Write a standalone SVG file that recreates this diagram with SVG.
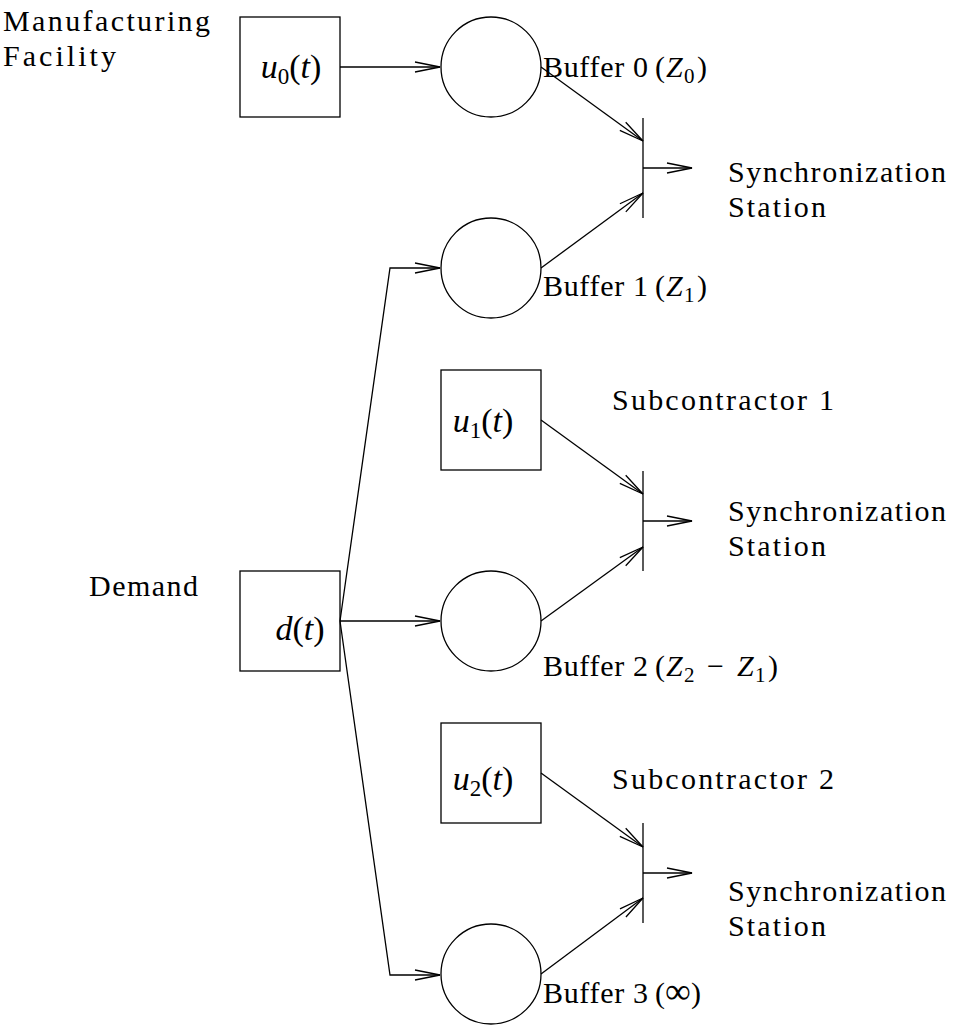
<svg xmlns="http://www.w3.org/2000/svg" width="957" height="1028" viewBox="0 0 957 1028">
<style>
  .shape { fill: none; stroke: #000; stroke-width: 1.3; }
  .conn { fill: none; stroke: #000; stroke-width: 1.3; marker-end: url(#arr); }
  text { font-family: "Liberation Serif", "DejaVu Serif", "Times New Roman", serif; font-size: 30px; fill: #000; }
  .it { font-style: italic; }
  .sub { font-size: 21px; }
  .math { font-size: 34px; }
  .math .sub { font-size: 23px; }
</style>
<defs>
  <marker id="arr" viewBox="-27 -7 29 14" markerWidth="29" markerHeight="14" refX="0" refY="0" orient="auto" markerUnits="userSpaceOnUse">
    <path d="M-25,-5 L0,0 L-25,5" fill="none" stroke="#000" stroke-width="1.3"/>
  </marker>
</defs>
<rect width="957" height="1028" fill="#fff"/>

<g id="label-manufacturing">
  <text x="3" y="31" textLength="207" lengthAdjust="spacing">Manufacturing</text>
  <text x="3" y="66" textLength="113" lengthAdjust="spacing">Facility</text>
</g>
<g id="u0">
  <rect class="shape" x="240" y="17" width="100" height="100"/>
  <text class="math" x="291" y="78" text-anchor="middle"><tspan class="it">u</tspan><tspan class="sub" dy="6">0</tspan><tspan dy="-6">(</tspan><tspan class="it">t</tspan>)</text>
</g>
<g id="buffer0">
  <circle class="shape" cx="491" cy="67" r="50"/>
  <text x="543" y="77"><tspan textLength="105" lengthAdjust="spacing">Buffer 0</tspan><tspan x="655">(</tspan><tspan class="it" x="666">Z</tspan><tspan class="sub" x="684" dy="6">0</tspan><tspan x="697" dy="-6">)</tspan></text>
</g>
<g id="sync1">
  <line class="shape" x1="643" y1="118" x2="643" y2="218"/>
  <text x="728" y="182" textLength="218" lengthAdjust="spacing">Synchronization</text>
  <text x="728" y="217" textLength="98" lengthAdjust="spacing">Station</text>
</g>
<g id="buffer1">
  <circle class="shape" cx="491" cy="268" r="50"/>
  <text x="543" y="296"><tspan textLength="105" lengthAdjust="spacing">Buffer 1</tspan><tspan x="655">(</tspan><tspan class="it" x="666">Z</tspan><tspan class="sub" x="684" dy="6">1</tspan><tspan x="697" dy="-6">)</tspan></text>
</g>
<g id="u1">
  <rect class="shape" x="441" y="370" width="100" height="100"/>
  <text class="math" x="483" y="432" text-anchor="middle"><tspan class="it">u</tspan><tspan class="sub" dy="6">1</tspan><tspan dy="-6">(</tspan><tspan class="it">t</tspan>)</text>
  <text x="612" y="410" textLength="222" lengthAdjust="spacing">Subcontractor 1</text>
</g>
<g id="sync2">
  <line class="shape" x1="643" y1="471" x2="643" y2="571"/>
  <text x="728" y="521" textLength="218" lengthAdjust="spacing">Synchronization</text>
  <text x="728" y="556" textLength="98" lengthAdjust="spacing">Station</text>
</g>
<g id="demand">
  <rect class="shape" x="240" y="571" width="100" height="100"/>
  <text class="math" x="300" y="640" text-anchor="middle"><tspan class="it">d</tspan>(<tspan class="it">t</tspan>)</text>
  <text x="89" y="596" textLength="109" lengthAdjust="spacing">Demand</text>
</g>
<g id="buffer2">
  <circle class="shape" cx="491" cy="621" r="50"/>
  <text x="543" y="676"><tspan textLength="105" lengthAdjust="spacing">Buffer 2</tspan><tspan x="655">(</tspan><tspan class="it" x="666">Z</tspan><tspan class="sub" x="684" dy="6">2</tspan><tspan x="707" dy="-6">−</tspan><tspan class="it" x="737">Z</tspan><tspan class="sub" x="755" dy="6">1</tspan><tspan x="768" dy="-6">)</tspan></text>
</g>
<g id="u2">
  <rect class="shape" x="441" y="723" width="100" height="100"/>
  <text class="math" x="483" y="790" text-anchor="middle"><tspan class="it">u</tspan><tspan class="sub" dy="6">2</tspan><tspan dy="-6">(</tspan><tspan class="it">t</tspan>)</text>
  <text x="612" y="789" textLength="222" lengthAdjust="spacing">Subcontractor 2</text>
</g>
<g id="sync3">
  <line class="shape" x1="643" y1="823" x2="643" y2="923"/>
  <text x="728" y="901" textLength="218" lengthAdjust="spacing">Synchronization</text>
  <text x="728" y="936" textLength="98" lengthAdjust="spacing">Station</text>
</g>
<g id="buffer3">
  <circle class="shape" cx="491" cy="974" r="50"/>
  <text x="543" y="1003"><tspan textLength="105" lengthAdjust="spacing">Buffer 3</tspan><tspan x="655">(</tspan><tspan x="665" font-size="36">∞</tspan><tspan x="691">)</tspan></text>
</g>

<g id="connectors">
  <line class="conn" x1="340" y1="67" x2="440" y2="67"/>
  <line class="conn" x1="541" y1="67" x2="643" y2="141"/>
  <line class="conn" x1="541" y1="268" x2="643" y2="193"/>
  <line class="conn" x1="643" y1="168" x2="692" y2="168"/>
  <polyline class="conn" points="340,621 390,268 440,268"/>
  <line class="conn" x1="541" y1="420" x2="643" y2="494"/>
  <line class="conn" x1="541" y1="621" x2="643" y2="547"/>
  <line class="conn" x1="643" y1="521" x2="692" y2="521"/>
  <line class="conn" x1="340" y1="621" x2="440" y2="621"/>
  <polyline class="conn" points="340,621 390,975 440,975"/>
  <line class="conn" x1="541" y1="773" x2="643" y2="847"/>
  <line class="conn" x1="541" y1="974" x2="643" y2="898"/>
  <line class="conn" x1="643" y1="873" x2="692" y2="873"/>
</g>
</svg>
